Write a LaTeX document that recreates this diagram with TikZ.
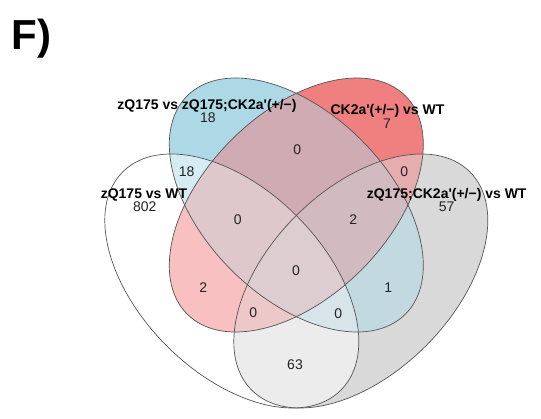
\documentclass[tikz,border=0pt]{standalone}
\usepackage{fontspec}
\setmainfont{Liberation Sans}
\definecolor{cW}{RGB}{255,255,255}
\definecolor{cB}{RGB}{173,216,230}
\definecolor{cR}{RGB}{240,128,128}
\definecolor{cG}{RGB}{217,217,217}
\definecolor{cWB}{RGB}{214,236,243}
\definecolor{cWR}{RGB}{248,192,192}
\definecolor{cWG}{RGB}{236,236,236}
\definecolor{cBR}{RGB}{207,172,179}
\definecolor{cBG}{RGB}{195,217,224}
\definecolor{cRG}{RGB}{229,173,173}
\definecolor{cWBR}{RGB}{223,200,204}
\definecolor{cWBG}{RGB}{215,229,234}
\definecolor{cWRG}{RGB}{237,200,200}
\definecolor{cBRG}{RGB}{210,187,192}
\definecolor{cAll}{RGB}{221,204,208}
\definecolor{lineC}{RGB}{85,85,85}
\definecolor{numC}{RGB}{35,35,35}
\newcommand\VennW[1]{\path[#1,rotate around={135:(231.8,137)}] (231.8,137) ellipse [x radius=154.3pt, y radius=91.9pt];}
\newcommand\VennG[1]{\path[#1,rotate around={45:(360.8,137)}] (360.8,137) ellipse [x radius=154.3pt, y radius=91.9pt];}
\newcommand\VennB[1]{\path[#1,rotate around={135:(296.3,213)}] (296.3,213) ellipse [x radius=154.3pt, y radius=91.9pt];}
\newcommand\VennR[1]{\path[#1,rotate around={45:(296.3,213)}] (296.3,213) ellipse [x radius=154.3pt, y radius=91.9pt];}
\newcommand\PaintAll[1]{\fill[#1] (0,0) rectangle (541,418);}
\newcommand\ap{\textquotesingle}
\begin{document}
\begin{tikzpicture}[x=1pt,y=1pt,
  numtxt/.style={inner sep=0pt, text=numC, font=\fontsize{14}{16}\selectfont},
  cattxt/.style={inner sep=0pt, anchor=base, text=black, font=\fontsize{14}{16}\selectfont\bfseries}]
\useasboundingbox (0,0) rectangle (541,418);
% single sets
\VennW{fill=cW}
\VennB{fill=cB}
\VennR{fill=cR}
\VennG{fill=cG}
% pairs
\begin{scope}\VennW{clip}\VennB{clip}\PaintAll{cWB}\end{scope}
\begin{scope}\VennW{clip}\VennR{clip}\PaintAll{cWR}\end{scope}
\begin{scope}\VennW{clip}\VennG{clip}\PaintAll{cWG}\end{scope}
\begin{scope}\VennB{clip}\VennR{clip}\PaintAll{cBR}\end{scope}
\begin{scope}\VennB{clip}\VennG{clip}\PaintAll{cBG}\end{scope}
\begin{scope}\VennR{clip}\VennG{clip}\PaintAll{cRG}\end{scope}
% triples
\begin{scope}\VennW{clip}\VennB{clip}\VennR{clip}\PaintAll{cWBR}\end{scope}
\begin{scope}\VennW{clip}\VennB{clip}\VennG{clip}\PaintAll{cWBG}\end{scope}
\begin{scope}\VennW{clip}\VennR{clip}\VennG{clip}\PaintAll{cWRG}\end{scope}
\begin{scope}\VennB{clip}\VennR{clip}\VennG{clip}\PaintAll{cBRG}\end{scope}
% all four
\begin{scope}\VennW{clip}\VennB{clip}\VennR{clip}\VennG{clip}\PaintAll{cAll}\end{scope}
% outlines
\VennW{draw=lineC, line width=0.7pt}
\VennB{draw=lineC, line width=0.7pt}
\VennR{draw=lineC, line width=0.7pt}
\VennG{draw=lineC, line width=0.7pt}
% numbers
\node[numtxt] (nB) at (208,300) {18};
\node[numtxt] (nR) at (387,294.5) {7};
\node[numtxt] (nWB) at (186.7,246.3) {18};
\node[numtxt] (nBR) at (297.3,268) {0};
\node[numtxt] (nRG) at (404.3,246.3) {0};
\node[numtxt] (nW) at (144.7,211.3) {802};
\node[numtxt] (nG) at (446.7,211.3) {57};
\node[numtxt] (nWBR) at (237.7,198) {0};
\node[numtxt] (nBRG) at (353.3,198) {2};
\node[numtxt] (nAll) at (296,147.3) {0};
\node[numtxt] (nWR) at (203.3,130.7) {2};
\node[numtxt] (nBG) at (388.3,130.7) {1};
\node[numtxt] (nWRG) at (253.3,105.3) {0};
\node[numtxt] (nWBG) at (338.3,104) {0};
\node[numtxt] (nWG) at (295,53.7) {63};
% category labels
\node[cattxt] (lB) at (207,308.5) {zQ175 vs zQ175;CK2a\ap(+/−)};
\node[cattxt] (lR) at (387.5,303) {CK2a\ap(+/−) vs WT};
\node[cattxt] (lW) at (144,219.5) {zQ175 vs WT};
\node[cattxt] (lG) at (446.7,219.5) {zQ175;CK2a\ap(+/−) vs WT};
% panel letter
\node[inner sep=0pt, anchor=base west, font=\fontsize{42}{48}\selectfont\bfseries] (panel) at (11.8,368) {F)};
\end{tikzpicture}
\end{document}
